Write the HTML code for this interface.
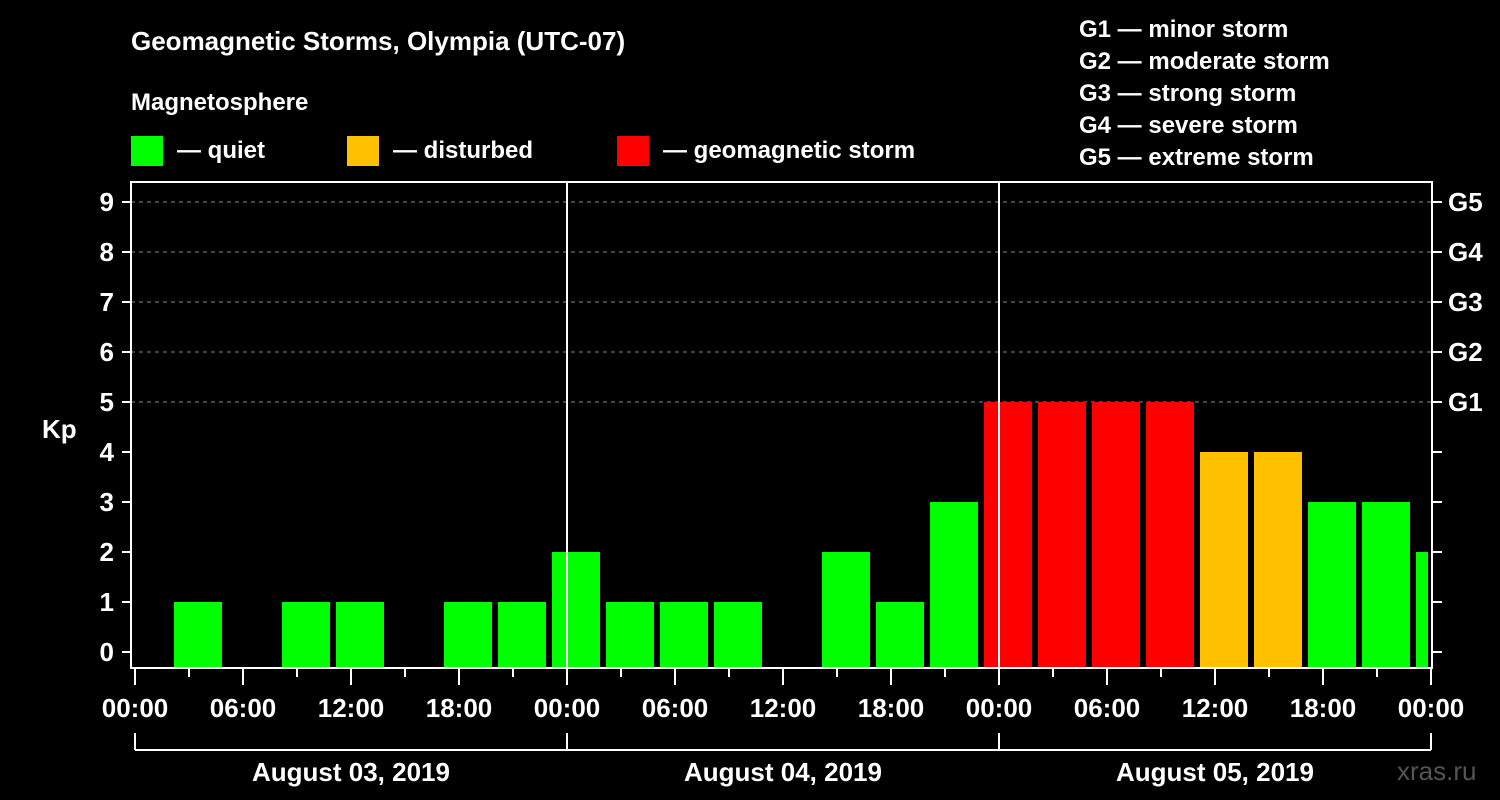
<!DOCTYPE html>
<html><head><meta charset="utf-8"><style>
html,body{margin:0;padding:0;background:#000;}
svg{display:block;font-family:"Liberation Sans",Arial,sans-serif;font-weight:bold;}
</style></head><body>
<svg width="1500" height="800" viewBox="0 0 1500 800">
<rect x="0" y="0" width="1500" height="800" fill="#000"/>
<text x="131" y="50" fill="#fff" font-size="26">Geomagnetic Storms, Olympia (UTC-07)</text>
<text x="131" y="110" fill="#fff" font-size="24">Magnetosphere</text>
<g><rect x="131" y="136" width="32" height="30" fill="#00ff00"/><text x="177" y="158" fill="#fff" font-size="24">— quiet</text></g>
<g><rect x="347" y="136" width="32" height="30" fill="#ffc000"/><text x="393" y="158" fill="#fff" font-size="24">— disturbed</text></g>
<g><rect x="617" y="136" width="32" height="30" fill="#ff0000"/><text x="663" y="158" fill="#fff" font-size="24">— geomagnetic storm</text></g>
<g fill="#fff" font-size="24">
<text x="1079" y="37">G1 — minor storm</text>
<text x="1079" y="69">G2 — moderate storm</text>
<text x="1079" y="101">G3 — strong storm</text>
<text x="1079" y="133">G4 — severe storm</text>
<text x="1079" y="165">G5 — extreme storm</text>
</g>
<text x="42" y="438" fill="#fff" font-size="26">Kp</text>
<text x="1397" y="780" fill="#555" font-size="26" font-weight="normal">xras.ru</text>
<g id="plot"></g>
</svg>
<script>
const kpValues=[0,1,0,1,1,0,1,1,2,1,1,1,0,2,1,3,5,5,5,5,4,4,3,3,2];
const yTicks=[0,1,2,3,4,5,6,7,8,9];
const gLabels=["G1","G2","G3","G4","G5"];
const timeLabels=["00:00","06:00","12:00","18:00","00:00","06:00","12:00","18:00","00:00","06:00","12:00","18:00","00:00"];
const dayLabels=["August 03, 2019","August 04, 2019","August 05, 2019"];
const NS="http://www.w3.org/2000/svg";
const g=document.getElementById('plot');
const L=131,R=1432,T=182,B=668,X0=135,HOUR=18;
const yS=v=>652-50*v;
const xS=h=>X0+HOUR*h;
function mk(t,a,txt){const e=document.createElementNS(NS,t);for(const k in a)e.setAttribute(k,a[k]);if(txt!==undefined)e.textContent=txt;g.appendChild(e);return e;}
// grid
for(let v=6;v<=9;v++){const e=mk('line',{x1:L,x2:R,y1:yS(v),y2:yS(v),stroke:'#888','stroke-dasharray':'4,4','stroke-width':1});

}
{const e=mk('line',{x1:L,x2:R,y1:yS(5),y2:yS(5),stroke:'#888','stroke-dasharray':'4,4','stroke-width':1});

}
// bars
kpValues.forEach((v,i)=>{if(v<=0)return;
const x=xS(3*i)-15;const w=Math.min(48,1428-x);
const c=v>=5?'#ff0000':(v>=4?'#ffc000':'#00ff00');
const e=mk('rect',{x:x,y:yS(v),width:w,height:B-yS(v),fill:c});

});
// day separators
[1,2].forEach(d=>{const e=mk('line',{x1:xS(24*d),x2:xS(24*d),y1:T,y2:B,stroke:'#fff','stroke-width':2});

});
// frame
{const e=mk('rect',{x:L,y:T,width:R-L,height:B-T,fill:'none',stroke:'#fff','stroke-width':2});

}
// y ticks
yTicks.forEach(v=>{mk('line',{x1:122,x2:L,y1:yS(v),y2:yS(v),stroke:'#fff','stroke-width':2});
mk('line',{x1:R,x2:1442,y1:yS(v),y2:yS(v),stroke:'#fff','stroke-width':2});
const t=mk('text',{x:114,y:yS(v)+9,fill:'#fff','font-size':26,'text-anchor':'end'},String(v));

});
gLabels.forEach((s,i)=>{const t=mk('text',{x:1448,y:yS(5+i)+9,fill:'#fff','font-size':26},s);

});
// x ticks
for(let h=0;h<=72;h+=3){const major=h%6===0;mk('line',{x1:xS(h),x2:xS(h),y1:B,y2:major?685:677,stroke:'#fff','stroke-width':2});}
timeLabels.forEach((s,i)=>{const t=mk('text',{x:xS(6*i),y:717,fill:'#fff','font-size':26,'text-anchor':'middle'},s);

});
// day bracket
mk('line',{x1:xS(0),x2:xS(72),y1:750,y2:750,stroke:'#fff','stroke-width':2});
for(let d=0;d<=3;d++)mk('line',{x1:xS(24*d),x2:xS(24*d),y1:733,y2:750,stroke:'#fff','stroke-width':2});
dayLabels.forEach((s,i)=>{const t=mk('text',{x:xS(24*i+12),y:781,fill:'#fff','font-size':26,'text-anchor':'middle'},s);

});
</script>
</body></html>
